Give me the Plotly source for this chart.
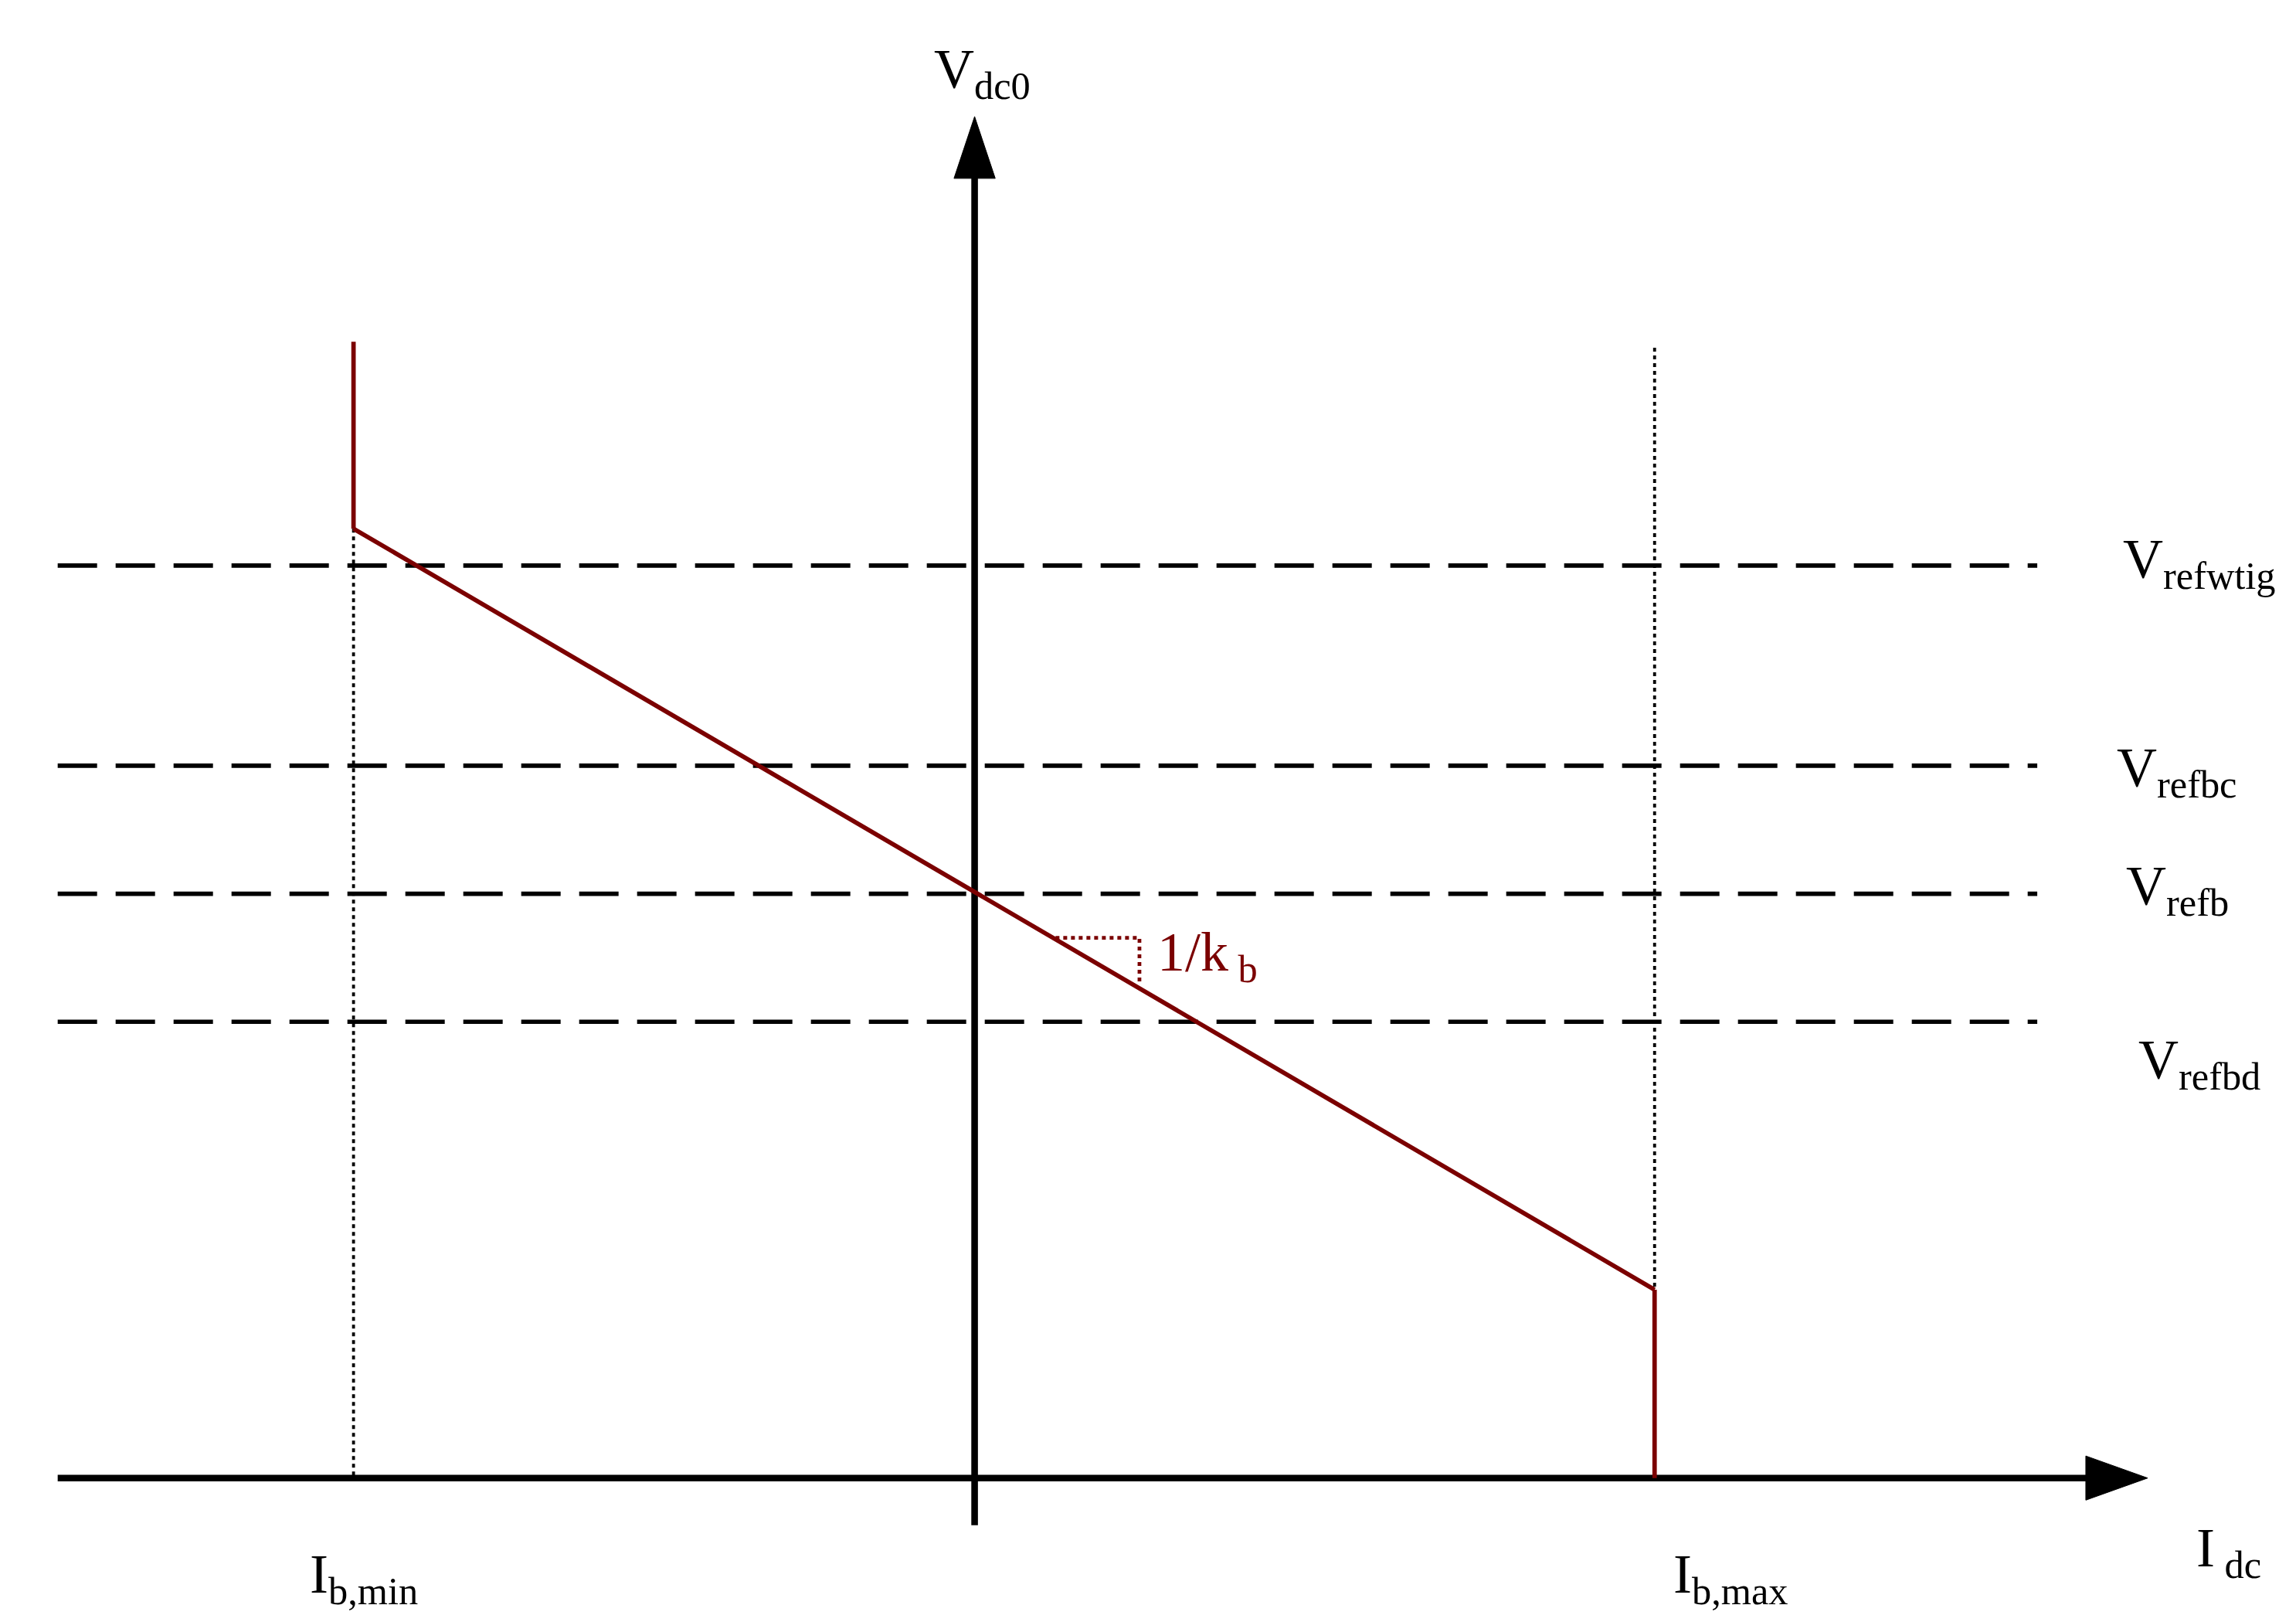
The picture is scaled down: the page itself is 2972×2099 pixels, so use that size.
import plotly.graph_objects as go

S = 2972/1560
# diagram coordinates (reference units, y downward)
ref_levels = [380, 516, 603, 690]
ref_names = ["V<sub>refwtig</sub>", "V<sub>refbc</sub>", "V<sub>refb</sub>", "V<sub>refbd</sub>"]
ref_label_xy = [(1490, 378), (1475, 520), (1475, 600), (1490, 718)]
droop_x = [236, 1120]
droop_y = [355, 872]
ib_min_x, ib_max_x = 236, 1120
x_axis_y, y_axis_x = 1000, 658

fig = go.Figure()
def line(x, y, color="black", w=4, dash="solid"):
    fig.add_trace(go.Scatter(x=x, y=y, mode="lines", line=dict(color=color, width=w*S, dash=dash), hoverinfo="skip"))

for y in ref_levels:
    line([35, 1380], [y, y], w=3, dash="%dpx,%dpx" % (int(27*S), int(13*S)))
line([ib_min_x, ib_min_x], [droop_y[0], x_axis_y], w=2, dash="%dpx,%dpx" % (int(3*S), int(3*S)))
line([ib_max_x, ib_max_x], [232, droop_y[1]], w=2, dash="%dpx,%dpx" % (int(3*S), int(3*S)))
line([35, 1420], [x_axis_y, x_axis_y], w=4.5)
line([y_axis_x, y_axis_x], [1032, 110], w=4.5)
red = "#7b0000"
line(droop_x, droop_y, color=red, w=3)
line([ib_min_x, ib_min_x], [228, droop_y[0]], color=red, w=3)
line([ib_max_x, ib_max_x], [droop_y[1], x_axis_y], color=red, w=3)
line([713, 770, 770], [633, 633, 665], color=red, w=2.5, dash="%dpx,%dpx" % (int(3*S), int(3*S)))
# arrowheads
fig.add_trace(go.Scatter(x=[1455, 1413, 1413, 1455], y=[1000, 985, 1015, 1000], fill="toself", fillcolor="black", line=dict(color="black", width=1), mode="lines"))
fig.add_trace(go.Scatter(x=[658, 644, 672, 658], y=[75, 117, 117, 75], fill="toself", fillcolor="black", line=dict(color="black", width=1), mode="lines"))

fs = int(38*S)
def txt(x, y, t, color="black"):
    fig.add_annotation(x=x, y=y, text=t, showarrow=False, font=dict(family="Liberation Serif", size=fs, color=color))
for (x, y), t in zip(ref_label_xy, ref_names):
    txt(x, y, t)
txt(663, 45, "V<sub>dc0</sub>")
txt(243, 1068, "I<sub>b,min</sub>")
txt(1172, 1068, "I<sub>b,max</sub>")
txt(1510, 1050, "I<sub> dc</sub>")
txt(816, 645, "1/k<sub> b</sub>", color=red)

fig.update_layout(width=2972, height=2099, margin=dict(l=0, r=0, t=0, b=0), showlegend=False,
                  plot_bgcolor="white", paper_bgcolor="white",
                  xaxis=dict(range=[0, 1560], visible=False), yaxis=dict(range=[1102, 0], visible=False))
fig.write_html("out.html")
